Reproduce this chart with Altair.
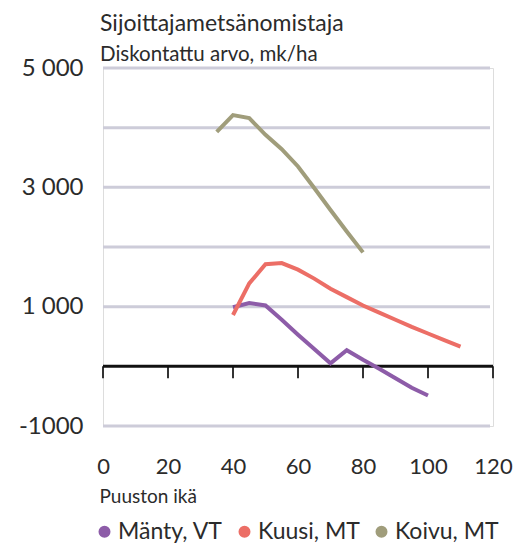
import altair as alt
import pandas as pd

series_names = ["Mänty, VT", "Kuusi, MT", "Koivu, MT"]
colors = ["#8d5ca8", "#ec6e66", "#a09d7b"]

manty_age = [40, 45, 50, 55, 60, 65, 70, 75, 80, 85, 90, 95, 100]
manty_val = [990, 1060, 1020, 780, 530, 290, 50, 270, 110, -40, -200, -360, -490]

kuusi_age = [40, 45, 50, 55, 60, 65, 70, 75, 80, 85, 90, 95, 100, 105, 110]
kuusi_val = [860, 1390, 1710, 1730, 1620, 1470, 1300, 1160, 1020, 900, 780, 660, 550, 440, 330]

koivu_age = [35, 40, 45, 50, 55, 60, 65, 70, 75, 80]
koivu_val = [3930, 4210, 4160, 3880, 3640, 3350, 2990, 2620, 2260, 1910]

y_labels = [5000, 3000, 1000, -1000]
grid_values = [5000, 4000, 3000, 2000, 1000, -1000]
x_ticks = [0, 20, 40, 60, 80, 100, 120]
tick_top = 0
tick_bottom = -200

rows = []
for name, ages, vals in [(series_names[0], manty_age, manty_val),
                         (series_names[1], kuusi_age, kuusi_val),
                         (series_names[2], koivu_age, koivu_val)]:
    for a, v in zip(ages, vals):
        rows.append({"laji": name, "ika": a, "arvo": v})
df = pd.DataFrame(rows)

tick_df = pd.DataFrame({"t": x_ticks, "y0": [tick_top] * len(x_ticks),
                        "y1": [tick_bottom] * len(x_ticks)})

FONT = "Lato"
TXT = "#2b2b2b"

xscale = alt.Scale(domain=[0, 120], nice=False)
yscale = alt.Scale(domain=[-1000, 5000], nice=False)

y_axis = alt.Axis(values=y_labels, grid=False, domain=False, ticks=False,
                  labelFontSize=24, labelColor=TXT, labelFont=FONT,
                  labelPadding=20,
                  labelExpr="datum.value < 0 ? '-1000' : replace(format(datum.value, ','), ',', ' ')",
                  title=None)
x_axis = alt.Axis(values=x_ticks, grid=False, domain=False, ticks=False,
                  labelFontSize=22, labelColor=TXT, labelFont=FONT,
                  labelFlush=False,
                  labelPadding=30, title="Puuston ikä",
                  titleFontSize=19, titleFont=FONT, titleColor=TXT,
                  titleFontWeight="normal", titleAnchor="start",
                  titleAlign="left", titlePadding=10, titleX=-4)

grid = alt.Chart(pd.DataFrame({"g": grid_values})).mark_rule(
    color="#cdccd9", strokeWidth=3
).encode(
    y=alt.Y("g:Q", scale=yscale, axis=y_axis),
    x=alt.value(0), x2=alt.value(387)
)

ticks = alt.Chart(tick_df).mark_rule(
    color="#333333", strokeWidth=2
).encode(
    x=alt.X("t:Q", scale=xscale, axis=x_axis),
    y=alt.Y("y0:Q", scale=yscale, axis=y_axis), y2="y1:Q"
)

zero = alt.Chart(pd.DataFrame({"z": [0]})).mark_rule(
    color="#111111", strokeWidth=3
).encode(
    y=alt.Y("z:Q", scale=yscale, axis=y_axis), x=alt.value(0), x2=alt.value(390)
)

lines = alt.Chart(df).mark_line(strokeWidth=4).encode(
    x=alt.X("ika:Q", scale=xscale, axis=x_axis),
    y=alt.Y("arvo:Q", scale=yscale, axis=y_axis),
    color=alt.Color("laji:N",
                    scale=alt.Scale(domain=series_names, range=colors),
                    sort=series_names,
                    legend=alt.Legend(orient="none", legendX=-10, legendY=452,
                                      direction="horizontal", title=None,
                                      symbolType="circle", symbolSize=36,
                                      symbolStrokeWidth=6, labelFontSize=23,
                                      labelFont=FONT, labelColor=TXT,
                                      labelOffset=2, columnPadding=6,
                                      labelLimit=200)),
    detail="laji:N"
)

chart = alt.layer(grid, ticks, zero, lines).properties(
    width=390, height=358,
    padding={"left": 103, "top": 68, "right": 34, "bottom": 125},
    autosize=alt.AutoSizeParams(type="none"),
    title=alt.TitleParams(
        "Sijoittajametsänomistaja",
        subtitle="Diskontattu arvo, mk/ha",
        anchor="start", frame="group", font=FONT, fontSize=23,
        fontWeight="normal", color=TXT, subtitleFont=FONT,
        subtitleFontSize=20.5, subtitleColor=TXT, subtitlePadding=9, offset=4,
        dx=-3, dy=13
    )
).configure_view(stroke=None).configure_axis(grid=False).configure(background="white")

chart.save("out.html", embed_options={"renderer": "svg", "actions": False})
